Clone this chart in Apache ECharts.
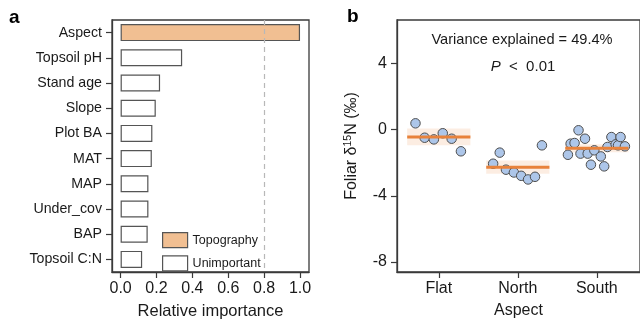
<!DOCTYPE html>
<html><head><meta charset="utf-8">
<script src="https://cdn.jsdelivr.net/npm/echarts@6/dist/echarts.min.js"></script>
<style>html,body{margin:0;padding:0;background:#fff}#c{width:640px;height:325px}</style>
</head><body><div id="c"></div>
<script>
// Panel a data
const categories = ['Aspect','Topsoil pH','Stand age','Slope','Plot BA','MAT','MAP','Under_cov','BAP','Topsoil C:N'];
const importance = [1.0, 0.343, 0.22, 0.196, 0.177, 0.174, 0.155, 0.155, 0.151, 0.12];
const importanceGroup = ['Topography','Unimportant','Unimportant','Unimportant','Unimportant','Unimportant','Unimportant','Unimportant','Unimportant','Unimportant'];
const threshold = 0.8;
const xTicksA = [0, 0.2, 0.4, 0.6, 0.8, 1.0];

// Panel b data
const aspectGroups = ['Flat','North','South'];
const flatX = [0.705, 0.821, 0.9375, 1.05, 1.1625, 1.28];
const flatY = [0.38, -0.49, -0.59, -0.22, -0.55, -1.31];
const northX = [1.6875, 1.771, 1.85, 1.95, 2.0425, 2.13, 2.2175, 2.305];
const northY = [-2.06, -1.39, -2.42, -2.59, -2.79, -3.01, -2.85, -0.95];
const southX = [2.634, 2.668, 2.718, 2.768, 2.793, 2.85, 2.884, 2.925, 2.968, 3.05, 3.093, 3.134, 3.184, 3.238, 3.268, 3.30, 3.355];
const southY = [-1.52, -0.85, -0.81, -0.04, -1.45, -0.55, -1.45, -2.12, -1.25, -1.62, -2.22, -1.05, -0.45, -0.89, -0.95, -0.45, -1.01];
const groupMean = [-0.45, -2.27, -1.12];
const groupLow = [-0.95, -2.67, -1.36];
const groupHigh = [0.06, -1.86, -0.89];
const yTicksB = [-8, -4, 0, 4];
const varianceText = 'Variance explained = 49.4%';

const FONT = "'Liberation Sans', Arial, sans-serif";
const TXT = '#1a1a1a';
const AX = '#3a3a3a';
const topoColor = '#f1bf92';
const edge = '#555555';

const chart = echarts.init(document.getElementById('c'), null, {renderer: 'canvas'});

const groupNames = ['Topography', 'Unimportant'];
const groupFill = {Topography: topoColor, Unimportant: '#ffffff'};
const barSeries = groupNames.map((g, gi) => ({
  name: g, type: 'bar', xAxisIndex: 0, yAxisIndex: 0,
  barWidth: 17, barGap: '-100%',
  itemStyle: {color: groupFill[g], borderColor: edge, borderWidth: 1.2},
  data: importance.map((v, i) => importanceGroup[i] === g ? v : '-'),
  markLine: gi === 0 ? {
    silent: true, symbol: 'none', label: {show: false},
    lineStyle: {type: [5, 4], color: '#b8b8b8', width: 1.2},
    data: [{xAxis: threshold}]
  } : undefined,
  z: 3
}));

const pts = [[flatX, flatY], [northX, northY], [southX, southY]];
const scatterSeries = pts.map(([xs, ys], gi) => ({
  type: 'scatter', xAxisIndex: 1, yAxisIndex: 1,
  symbolSize: 9.5,
  itemStyle: {color: '#adc6e9', borderColor: '#4d4d4d', borderWidth: 1, opacity: 1},
  data: xs.map((x, i) => [x, ys[i]]),
  z: 4
}));

const meanSeries = aspectGroups.map((g, gi) => ({
  type: 'line', xAxisIndex: 1, yAxisIndex: 1,
  symbol: 'none', silent: true,
  lineStyle: {color: '#e8823b', width: 3},
  data: [[gi + 1 - 0.4, groupMean[gi]], [gi + 1 + 0.4, groupMean[gi]]],
  markArea: {
    silent: true,
    itemStyle: {color: 'rgba(246,196,160,0.3)'},
    data: [[{xAxis: gi + 1 - 0.4, yAxis: groupLow[gi]}, {xAxis: gi + 1 + 0.4, yAxis: groupHigh[gi]}]]
  },
  z: 5
}));

chart.setOption({
  animation: false,
  textStyle: {fontFamily: FONT, color: TXT},
  grid: [
    {left: 112, top: 20, width: 197, height: 252, show: true, borderColor: AX, borderWidth: 1.3, backgroundColor: 'transparent'},
    {left: 397, top: 20, width: 246, height: 252, show: true, borderColor: AX, borderWidth: 1.3, backgroundColor: 'transparent'}
  ],
  xAxis: [
    {gridIndex: 0, type: 'value', min: -0.048, max: 1.05,
     name: 'Relative importance', nameLocation: 'middle', nameGap: 31,
     nameTextStyle: {fontSize: 16.5, color: TXT, fontFamily: FONT},
     axisLine: {show: true, onZero: false, lineStyle: {color: AX, width: 1.3}},
     axisTick: {show: true, length: 6, customValues: xTicksA, lineStyle: {color: AX, width: 1.2}},
     axisLabel: {customValues: xTicksA, margin: 9, fontSize: 16, color: TXT, fontFamily: FONT, formatter: v => v.toFixed(1)},
     splitLine: {show: false}},
    {gridIndex: 1, type: 'value', min: 0.471, max: 3.546,
     name: 'Aspect', nameLocation: 'middle', nameGap: 31,
     nameTextStyle: {fontSize: 16, color: TXT, fontFamily: FONT},
     axisLine: {show: true, onZero: false, lineStyle: {color: AX, width: 1.3}},
     axisTick: {show: true, length: 6, customValues: [1, 2, 3], lineStyle: {color: AX, width: 1.2}},
     axisLabel: {customValues: [1, 2, 3], margin: 9, fontSize: 16, color: TXT, fontFamily: FONT,
                 formatter: v => aspectGroups[Math.round(v) - 1] || ''},
     splitLine: {show: false}}
  ],
  yAxis: [
    {gridIndex: 0, type: 'category', inverse: true, data: categories,
     axisLine: {show: true, onZero: false, lineStyle: {color: AX, width: 1.3}},
     axisTick: {show: true, alignWithLabel: true, length: 6, lineStyle: {color: AX, width: 1.2}},
     axisLabel: {margin: 10, fontSize: 14.2, color: TXT, fontFamily: FONT, interval: 0},
     splitLine: {show: false}},
    {gridIndex: 1, type: 'value', min: -8.6, max: 6.62,
     name: '{n|Foliar δ}{s|15}{n|N (‰)}', nameLocation: 'middle', nameGap: 36, nameRotate: 90,
     nameTextStyle: {fontFamily: FONT, color: TXT, rich: {
       n: {fontSize: 16, fontFamily: FONT, color: TXT},
       s: {fontSize: 10.5, fontFamily: FONT, color: TXT, verticalAlign: 'top', padding: [0, 0, 7, 0]}
     }},
     axisLine: {show: true, onZero: false, lineStyle: {color: AX, width: 1.3}},
     axisTick: {show: true, length: 6, customValues: yTicksB, lineStyle: {color: AX, width: 1.2}},
     axisLabel: {customValues: yTicksB, margin: 10, fontSize: 16, color: TXT, fontFamily: FONT},
     splitLine: {show: false}}
  ],
  legend: {
    left: 157, top: 227, orient: 'vertical', itemWidth: 25, itemHeight: 15, itemGap: 7,
    icon: 'rect',
    textStyle: {fontSize: 12.5, color: TXT, fontFamily: FONT, padding: [0, 0, 0, 0]},
    data: [
      {name: 'Topography', itemStyle: {color: topoColor, borderColor: edge, borderWidth: 1.2}},
      {name: 'Unimportant', itemStyle: {color: '#ffffff', borderColor: edge, borderWidth: 1.2}}
    ]
  },
  graphic: [
    {type: 'text', left: 9, top: 8, style: {text: 'a', font: 'bold 19px ' + FONT, fill: '#000'}},
    {type: 'text', left: 347, top: 7, style: {text: 'b', font: 'bold 19px ' + FONT, fill: '#000'}},
    {type: 'text', x: 522, y: 40, style: {text: varianceText, font: '14.6px ' + FONT, fill: TXT, align: 'center', verticalAlign: 'middle'}},
    {type: 'text', x: 523, y: 67, style: {
      text: '{i|P}{n|  <  0.01}', align: 'center', verticalAlign: 'middle',
      rich: {i: {font: 'italic 15px ' + FONT, fill: TXT}, n: {font: '15px ' + FONT, fill: TXT}}
    }}
  ],
  series: [...barSeries, ...scatterSeries, ...meanSeries]
});
</script></body></html>
